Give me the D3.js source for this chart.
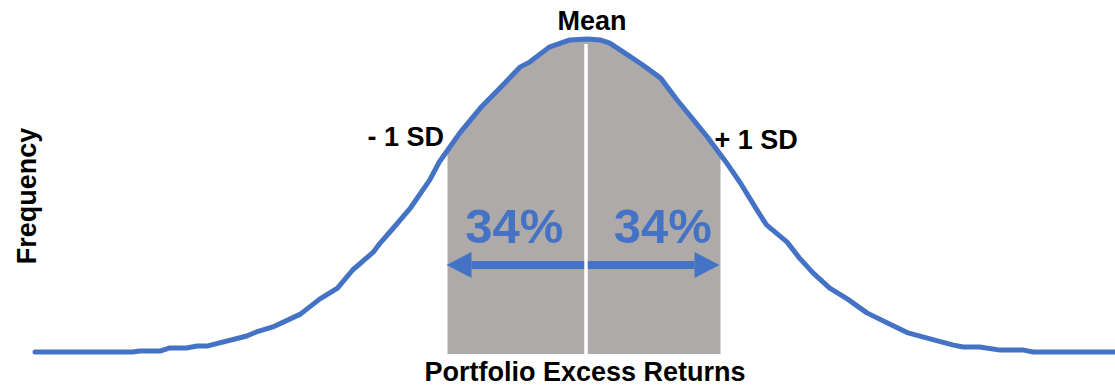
<!DOCTYPE html>
<html>
<head>
<meta charset="utf-8">
<script src="https://cdn.jsdelivr.net/npm/d3@7"></script>
<style>
  body { margin: 0; background: #fff; }
  text { font-family: "Liberation Sans", Arial, sans-serif; font-weight: bold; }
</style>
</head>
<body>
<div id="chart"></div>
<script>
// Curve: returns in SD units, frequency as % of peak
let returnsSD = [-4.00, -3.29, -3.24, -3.09, -3.02, -2.90, -2.82, -2.75, -2.46, -2.39, -2.27, -2.07,
  -1.93, -1.80, -1.69, -1.54, -1.49, -1.40, -1.27, -1.13, -1.06, -0.91, -0.76, -0.62, -0.47,
  -0.40, -0.26, -0.11, 0.02, 0.11, 0.18, 0.28, 0.42, 0.55, 0.67, 0.79, 0.89, 1.03, 1.13, 1.25,
  1.32, 1.47, 1.56, 1.66, 1.78, 1.91, 2.05, 2.20, 2.35, 2.51, 2.68, 2.75, 2.87, 3.02, 3.19,
  3.26, 4.00];
let frequency = [0, 0, 0.3, 0.3, 1.3, 1.3, 1.9, 1.9, 5.1, 6.4, 8.0, 12.1,
  16.9, 20.4, 26.2, 31.9, 34.8, 39.3, 46.0, 54.9, 60.7, 70.0, 78.0, 84.3, 91.1,
  92.7, 97.4, 99.7, 100, 99.7, 98.7, 95.8, 91.7, 87.5, 80.5, 74.1, 68.7, 60.4, 54.0, 45.4,
  40.6, 35.1, 30.0, 25.2, 20.4, 16.9, 12.5, 9.3, 6.1, 4.2, 2.2, 1.6, 1.6, 0.6, 0.6,
  0, 0];

let sdBounds = [-1, 1];
let sdLabels = ["- 1 SD", "+ 1 SD"];
let pctLabels = ["34%", "34%"];
let arrowLevel = 27.8;

let svgWidth = 1115;
let svgHeight = 387;

let blue = "#4472C4";
let gray = "#aeaaa9";

let svg = d3.select("#chart")
  .append("svg")
  .attr("width", svgWidth)
  .attr("height", svgHeight);

// Scales
let xScale = d3.scaleLinear().domain([-4, 4]).range([35, 1135]);
let yScale = d3.scaleLinear().domain([0, 100]).range([352, 39]);

let points = returnsSD.map((x, i) => ({ x: x, y: frequency[i] }));

// Shaded area between -1 SD and +1 SD
svg.append("clipPath")
  .attr("id", "sdClip")
  .append("rect")
  .attr("x", xScale(sdBounds[0]))
  .attr("y", 0)
  .attr("width", xScale(sdBounds[1]) - xScale(sdBounds[0]) - 2)
  .attr("height", svgHeight);

let area = d3.area()
  .x(d => xScale(d.x))
  .y0(yScale(0) + 2)
  .y1(d => yScale(d.y));

svg.append("path")
  .datum(points)
  .attr("clip-path", "url(#sdClip)")
  .attr("fill", gray)
  .attr("d", area);

// Arrows from the mean to each SD bound
let arrowY = yScale(arrowLevel);
sdBounds.forEach(b => {
  let x0 = xScale(0);
  let x1 = xScale(b) + (b < 0 ? -1 : -3);
  let dir = b < 0 ? -1 : 1;
  let headBase = x1 - dir * 25;
  svg.append("line")
    .attr("x1", x0).attr("x2", headBase)
    .attr("y1", arrowY).attr("y2", arrowY)
    .attr("stroke", blue)
    .attr("stroke-width", 8);
  svg.append("path")
    .attr("d", `M${x1},${arrowY} L${headBase},${arrowY - 13} L${headBase},${arrowY + 13} Z`)
    .attr("fill", blue);
});

// Percent labels
pctLabels.forEach((t, i) => {
  let mid = (xScale(0) + xScale(sdBounds[i])) / 2;
  svg.append("text")
    .attr("x", mid + (i === 0 ? -2 : 9))
    .attr("y", arrowY - 22)
    .attr("text-anchor", "middle")
    .style("font-size", "49px")
    .style("fill", blue)
    .text(t);
});

// White mean line
svg.append("line")
  .attr("x1", xScale(0) + 1).attr("x2", xScale(0) + 1)
  .attr("y1", yScale(100) + 5).attr("y2", yScale(0) + 2)
  .attr("stroke", "#fff")
  .attr("stroke-width", 3.5);

// The frequency curve
let line = d3.line()
  .x(d => xScale(d.x))
  .y(d => yScale(d.y));

svg.append("path")
  .datum(points)
  .attr("fill", "none")
  .attr("stroke", blue)
  .attr("stroke-width", 5)
  .attr("stroke-linejoin", "round")
  .attr("stroke-linecap", "round")
  .attr("d", line);

// Labels
svg.append("text")
  .attr("x", xScale(0) + 7)
  .attr("y", 30)
  .attr("text-anchor", "middle")
  .style("font-size", "27px")
  .text("Mean");

svg.append("text")
  .attr("x", xScale(sdBounds[0]) - 80)
  .attr("y", 146)
  .style("font-size", "27px")
  .text(sdLabels[0]);

svg.append("text")
  .attr("x", xScale(sdBounds[1]) - 8)
  .attr("y", 149)
  .style("font-size", "27px")
  .text(sdLabels[1]);

svg.append("text")
  .attr("transform", "translate(36, 196) rotate(-90)")
  .attr("text-anchor", "middle")
  .style("font-size", "27px")
  .text("Frequency");

svg.append("text")
  .attr("x", 585)
  .attr("y", 381)
  .attr("text-anchor", "middle")
  .style("font-size", "27px")
  .text("Portfolio Excess Returns");
</script>
</body>
</html>
